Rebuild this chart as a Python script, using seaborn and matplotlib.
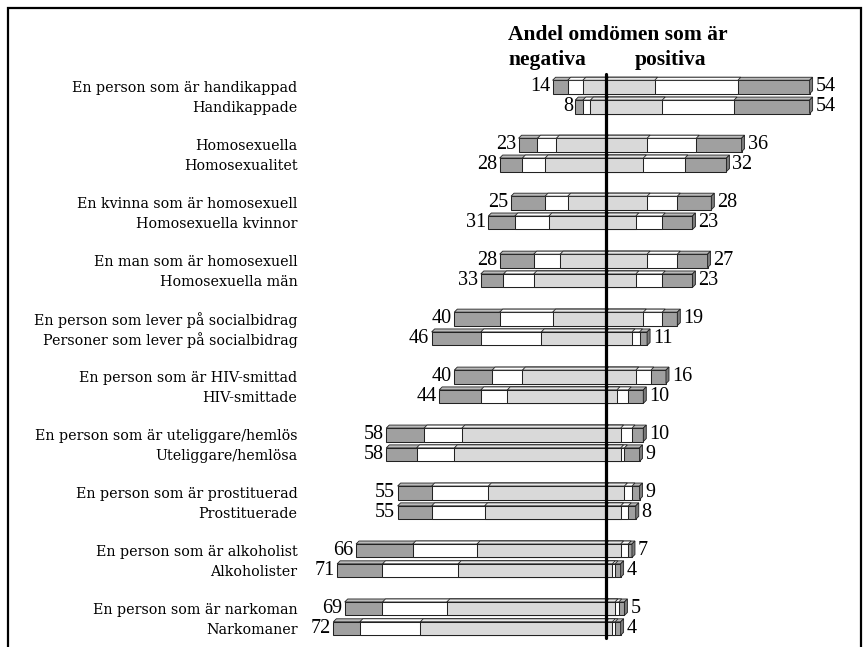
import numpy as np
import pandas as pd
import matplotlib
matplotlib.use("Agg")
import matplotlib.pyplot as plt
import seaborn as sns
from matplotlib.patches import Polygon, Rectangle

# ---------------- data ----------------
row_labels = [
    "En person som är handikappad", "Handikappade",
    "Homosexuella", "Homosexualitet",
    "En kvinna som är homosexuell", "Homosexuella kvinnor",
    "En man som är homosexuell", "Homosexuella män",
    "En person som lever på socialbidrag", "Personer som lever på socialbidrag",
    "En person som är HIV-smittad", "HIV-smittade",
    "En person som är uteliggare/hemlös", "Uteliggare/hemlösa",
    "En person som är prostituerad", "Prostituerade",
    "En person som är alkoholist", "Alkoholister",
    "En person som är narkoman", "Narkomaner",
]
neg_labels = [14, 8, 23, 28, 25, 31, 28, 33, 40, 46, 40, 44, 58, 58, 55, 55, 66, 71, 69, 72]
pos_labels = [54, 54, 36, 32, 28, 23, 27, 23, 19, 11, 16, 10, 10, 9, 9, 8, 7, 4, 5, 4]

very_negative     = [4, 2, 5, 6, 9, 7, 9, 6, 12, 13, 10, 11, 10, 8, 9, 9, 15, 12, 10, 7]
negative          = [4, 2, 5, 6, 6, 9, 7, 8, 14, 16, 8, 7, 10, 10, 15, 14, 17, 20, 17, 16]
slightly_negative = [6, 4, 13, 16, 10, 15, 12, 19, 14, 17, 22, 26, 38, 40, 31, 32, 34, 39, 42, 49]
slightly_positive = [13, 15, 11, 10, 11, 8, 11, 8, 10, 7, 8, 3, 4, 4, 5, 4, 4, 1.8, 2.5, 1.8]
positive          = [22, 19, 13, 11, 8, 7, 8, 7, 5, 2, 4, 3, 3, 1, 2, 2, 2, 0.7, 1, 0.7]
very_positive     = [19, 20, 12, 11, 9, 8, 8, 8, 4, 2, 4, 4, 3, 4, 2, 2, 1, 1.5, 1.5, 1.5]

header_line1 = "Andel omdömen som är"
header_neg = "negativa"
header_pos = "positiva"

# ---------------- style ----------------
DARK, WHITE, LIGHT = "#a0a0a0", "#ffffff", "#d9d9d9"
TOP = {DARK: "#bababa", WHITE: "#ffffff", LIGHT: "#e6e6e6"}
SIDE = "#7a7a7a"
EDGE = "#222222"

sns.set_style("white")
plt.rcParams["font.family"] = ["Liberation Serif", "DejaVu Serif"]
plt.rcParams["text.color"] = "black"

W, H = 868, 647
fig = plt.figure(figsize=(W / 100, H / 100), dpi=100)
AX_L, AX_R, AX_T, AX_B = 310, 860, 58, 647
ax = fig.add_axes([AX_L / W, 1 - AX_B / H, (AX_R - AX_L) / W, (AX_B - AX_T) / H])

ZERO_PX, PX_PER_UNIT = 605.5, 3.78
FIRST_CENTER_PX, PAIR_PITCH = 96.9, 57.97

n = len(row_labels)
vn, ng, sn = map(np.array, (very_negative, negative, slightly_negative))
sp, ps, vp = map(np.array, (slightly_positive, positive, very_positive))
df = pd.DataFrame({
    "pair": [str(i // 2) for i in range(n)],
    "variant": ["person" if i % 2 == 0 else "grupp" for i in range(n)],
    "neg_dark": -(vn + ng + sn),
    "neg_white": -(ng + sn),
    "neg_light": -sn,
    "pos_dark": sp + ps + vp,
    "pos_white": sp + ps,
    "pos_light": sp,
})
pair_order = [str(i) for i in range(n // 2)]

layers = [("neg_dark", DARK), ("neg_white", WHITE), ("neg_light", LIGHT),
          ("pos_dark", DARK), ("pos_white", WHITE), ("pos_light", LIGHT)]
layer_patches = {}
for col, color in layers:
    before = len(ax.patches)
    sns.barplot(data=df, x=col, y="pair", hue="variant", order=pair_order,
                hue_order=["person", "grupp"], palette=[color, color],
                orient="y", width=0.684, gap=0.32, dodge=True, saturation=1,
                edgecolor=EDGE, linewidth=0.75, errorbar=None, legend=False, ax=ax)
    ps_ = list(ax.patches[before:])
    ps_.sort(key=lambda p: p.get_y() + p.get_height() / 2)
    layer_patches[col] = (ps_, color)

# axis limits so that zero and scale match the reference
ax.set_xlim((AX_L - ZERO_PX) / PX_PER_UNIT, (AX_R - ZERO_PX) / PX_PER_UNIT)
ax.set_ylim((AX_B - FIRST_CENTER_PX) / PAIR_PITCH, -(FIRST_CENTER_PX - AX_T) / PAIR_PITCH)

DEPTH = 3.0
dx = DEPTH / PX_PER_UNIT
dy = DEPTH / PAIR_PITCH

# 3D top faces
for col, color in layers:
    for p in layer_patches[col][0]:
        x0, x1 = sorted([p.get_x(), p.get_x() + p.get_width()])
        ytop = min(p.get_y(), p.get_y() + p.get_height())
        poly = Polygon([(x0, ytop), (x1, ytop), (x1 + dx, ytop - dy), (x0 + dx, ytop - dy)],
                       closed=True, facecolor=TOP[color], edgecolor=EDGE, linewidth=0.6, zorder=2)
        ax.add_patch(poly)
# right side faces
for p in layer_patches["pos_dark"][0]:
    x1 = max(p.get_x(), p.get_x() + p.get_width())
    ytop = min(p.get_y(), p.get_y() + p.get_height())
    ybot = max(p.get_y(), p.get_y() + p.get_height())
    poly = Polygon([(x1, ytop), (x1 + dx, ytop - dy), (x1 + dx, ybot - dy), (x1, ybot)],
                   closed=True, facecolor=SIDE, edgecolor=EDGE, linewidth=0.6, zorder=2)
    ax.add_patch(poly)

# value labels
centers = []
for r, (pn, pp) in enumerate(zip(layer_patches["neg_dark"][0], layer_patches["pos_dark"][0])):
    yc = pn.get_y() + pn.get_height() / 2
    centers.append(yc)
    xl = min(pn.get_x(), pn.get_x() + pn.get_width())
    xr = max(pp.get_x(), pp.get_x() + pp.get_width())
    ax.annotate(str(neg_labels[r]), xy=(xl, yc), xytext=(-2.5, 0), textcoords="offset pixels",
                ha="right", va="center", fontsize=14.5, family="Liberation Serif", color="black")
    ax.annotate(str(pos_labels[r]), xy=(xr, yc), xytext=(6, 0), textcoords="offset pixels",
                ha="left", va="center", fontsize=14.5, family="Liberation Serif", color="black")

# category labels
ax.set_yticks(centers)
ax.set_yticklabels(row_labels, fontsize=10.3, family="DejaVu Serif", color="black")
ax.tick_params(axis="y", length=0, pad=9)
ax.set_xticks([])
ax.set_xlabel("")
ax.set_ylabel("")
for s in ax.spines.values():
    s.set_visible(False)
ax.grid(False)

# zero line
ax.axvline(0, ymin=(AX_B - 638) / (AX_B - AX_T), ymax=(AX_B - 74) / (AX_B - AX_T),
           color="black", linewidth=2.3, zorder=5)

# header
for txt, xpx, ypx in [(header_line1, 508, 40), (header_neg, 508, 65), (header_pos, 635, 65)]:
    fig.text(xpx / W, 1 - ypx / H, txt, ha="left", va="baseline", color="black",
             fontsize=15.5, fontweight="bold", family="Liberation Serif")

# outer frame
fig.add_artist(Rectangle((8 / W, -0.05), (861 - 8) / W, 1.05 - 8 / H,
                         transform=fig.transFigure, fill=False, edgecolor="black", linewidth=1.6))

fig.savefig("out.png", dpi=100)
